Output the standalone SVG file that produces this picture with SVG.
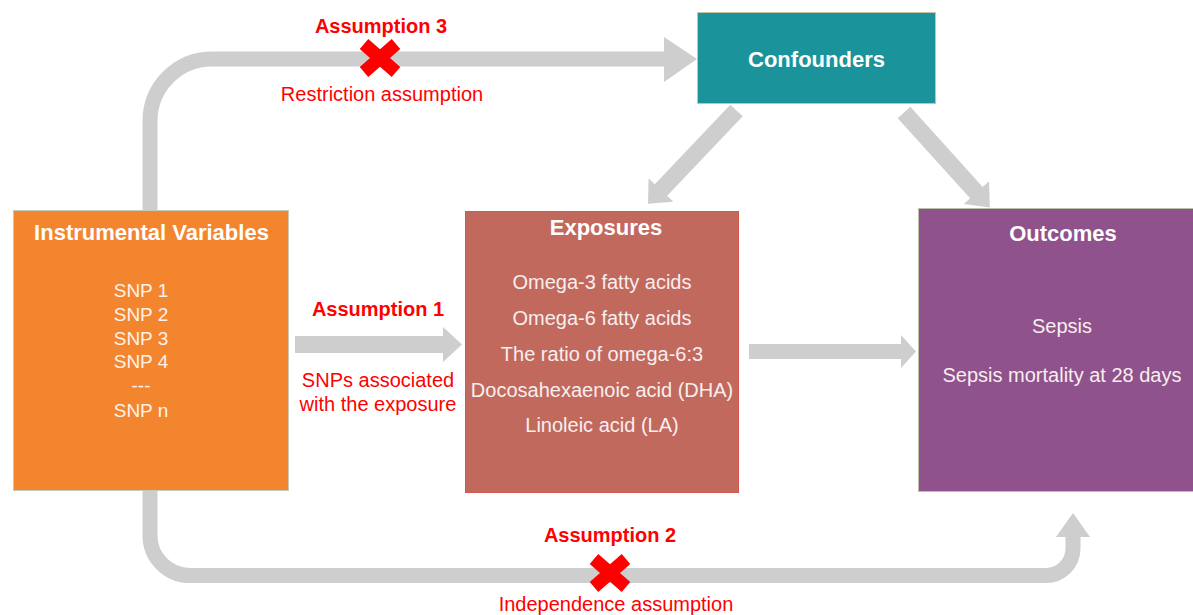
<svg xmlns="http://www.w3.org/2000/svg" width="1193" height="615" viewBox="0 0 1193 615">
<style>
.conn{fill:none;stroke:#cfcece;stroke-width:15}
.head{fill:#cfcece;stroke:none}
.x{stroke:#ff0000;stroke-width:13;fill:none}
.lbl{font-family:"Liberation Sans",Arial,sans-serif;font-size:20px;fill:#ff0000;text-anchor:middle}
.lblb{font-family:"Liberation Sans",Arial,sans-serif;font-size:20px;font-weight:bold;fill:#ff0000;text-anchor:middle}
.title{font-family:"Liberation Sans",Arial,sans-serif;font-size:22px;font-weight:bold;fill:#ffffff;text-anchor:middle}
.item{font-family:"Liberation Sans",Arial,sans-serif;font-size:20px;fill:#f7eeee;text-anchor:middle}
.snp{font-family:"Liberation Sans",Arial,sans-serif;font-size:19px;fill:#fdf3ea;text-anchor:middle}
</style>
<rect width="1193" height="615" fill="#ffffff"/>
<g id="connectors">
  <path class="conn" d="M150,212 V121 A62,62 0 0 1 212,59 H665"/>
  <polygon class="head" points="664,37 697,59 664,82"/>
  <path class="conn" d="M150,488 V535 A40,40 0 0 0 190,575.5 H1046 A27,27 0 0 0 1073,548.5 V535"/>
  <polygon class="head" points="1056,537 1073,513 1090,537"/>
  <rect class="head" x="295" y="336" width="149" height="17"/>
  <polygon class="head" points="443,327 462,344.5 443,362"/>
  <rect class="head" x="749" y="344" width="153" height="15"/>
  <polygon class="head" points="901,335 916,351.5 901,368"/>
  <polygon class="head" points="730.3,104.7 742.7,116.3 667.2,195.8 673.4,201.7 648,203.8 648.6,178.3 654.8,184.2"/>
  <polygon class="head" points="897.7,118.2 910.3,106.8 982.7,186.9 989,181.2 989.8,207.4 963.8,204 970.1,198.3"/>
</g>
<g id="assumption3">
  <text class="lblb" x="381" y="33">Assumption 3</text>
  <path class="x" d="M364,44 L396,72 M364,72 L396,44"/>
  <text class="lbl" x="382" y="101">Restriction assumption</text>
</g>
<g id="assumption1">
  <text class="lblb" x="378" y="316">Assumption 1</text>
  <text class="lbl" x="378" y="387">SNPs associated</text>
  <text class="lbl" x="378" y="411">with the exposure</text>
</g>
<g id="assumption2">
  <text class="lblb" x="610" y="542">Assumption 2</text>
  <path class="x" d="M594,559 L626,587 M594,587 L626,559"/>
  <text class="lbl" x="616" y="611">Independence assumption</text>
</g>
<g id="confounders">
  <rect x="697.5" y="12.5" width="238" height="91" fill="#1a949a" stroke="#c9c3a3" stroke-width="1"/>
  <text class="title" x="816.5" y="67">Confounders</text>
</g>
<g id="instrumental-variables">
  <rect x="13.5" y="210.5" width="275" height="280" fill="#f4852f" stroke="#c9c9b8" stroke-width="1"/>
  <text class="title" x="151.5" y="240">Instrumental Variables</text>
  <text class="snp" x="141" y="297">SNP 1</text>
  <text class="snp" x="141" y="321">SNP 2</text>
  <text class="snp" x="141" y="345">SNP 3</text>
  <text class="snp" x="141" y="368">SNP 4</text>
  <text class="snp" x="141" y="392">---</text>
  <text class="snp" x="141" y="417">SNP n</text>
</g>
<g id="exposures">
  <rect x="465.5" y="211.5" width="273" height="281" fill="#c2695e" stroke="#d4584c" stroke-width="1"/>
  <text class="title" x="606" y="235">Exposures</text>
  <text class="item" x="602" y="289">Omega-3 fatty acids</text>
  <text class="item" x="602" y="325">Omega-6 fatty acids</text>
  <text class="item" x="602" y="361">The ratio of omega-6:3</text>
  <text class="item" x="602" y="397">Docosahexaenoic acid (DHA)</text>
  <text class="item" x="602" y="432">Linoleic acid (LA)</text>
</g>
<g id="outcomes">
  <rect x="918.5" y="208.5" width="280" height="283" fill="#8f528c" stroke="#b8c4a8" stroke-width="1"/>
  <text class="title" x="1063" y="241">Outcomes</text>
  <text class="item" x="1062" y="333">Sepsis</text>
  <text class="item" x="1062" y="382">Sepsis mortality at 28 days</text>
</g>
</svg>
